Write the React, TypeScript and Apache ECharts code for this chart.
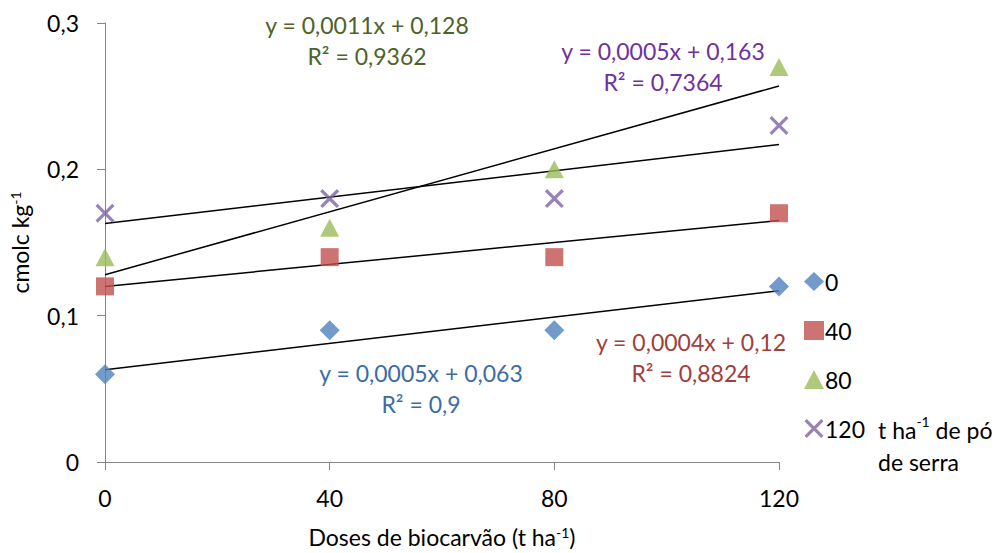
import React, { useEffect, useRef } from "react";
import * as echarts from "echarts";

const doses = [0, 40, 80, 120];
const seriesNames = ["0", "40", "80", "120"];
const values0 = [0.06, 0.09, 0.09, 0.12];
const values40 = [0.12, 0.14, 0.14, 0.17];
const values80 = [0.14, 0.16, 0.2, 0.27];
const values120 = [0.17, 0.18, 0.18, 0.23];
const trendX = [0, 120];
const trend0 = [0.063, 0.117];
const trend40 = [0.12, 0.165];
const trend80 = [0.128, 0.257];
const trend120 = [0.163, 0.217];

const FONT = "Lato, 'Open Sans', sans-serif";
const FS = 23;
const XMARK = "path://M0,1.2L1.2,0L5,3.8L8.8,0L10,1.2L6.2,5L10,8.8L8.8,10L5,6.2L1.2,10L0,8.8L3.8,5Z";

export default function App() {
  const ref = useRef<HTMLDivElement>(null);
  useEffect(() => {
    if (!ref.current) return;
    const chart = echarts.init(ref.current, null, { renderer: "svg" });
    const pts = (v: number[]) => doses.map((d, i) => [d, v[i]]);
    const tr = (v: number[]) => trendX.map((d, i) => [d, v[i]]);
    const sup = { fontSize: 14, verticalAlign: "top" as const, fontFamily: FONT, color: "#000", padding: [0, 0, 8, 0] };
    const trendSeries = [trend0, trend40, trend80, trend120].map((t) => ({
      type: "line",
      data: tr(t),
      showSymbol: false,
      symbol: "none",
      silent: true,
      lineStyle: { color: "#000", width: 1.5 },
      z: 3,
    }));
    const eq = (x: number, y: number, l1: string, l2: string, color: string) => ({
      type: "text",
      x,
      y,
      style: {
        text: l1 + "\n" + l2,
        fill: color,
        font: `${FS}px ${FONT}`,
        textAlign: "center",
        textVerticalAlign: "middle",
        lineHeight: 31,
      },
    });
    chart.setOption({
      animation: false,
      textStyle: { fontFamily: FONT },
      grid: { left: 103, right: 228, top: 23, bottom: 86, containLabel: false },
      xAxis: {
        type: "value",
        min: 0,
        max: 120,
        interval: 40,
        name: "Doses de biocarvão (t ha{s|-1})",
        nameLocation: "middle",
        nameGap: 63,
        nameTextStyle: { fontSize: FS, color: "#000", fontFamily: FONT, rich: { s: sup } },
        axisLine: { lineStyle: { color: "#868686", width: 1 } },
        axisTick: { show: true, length: 8, lineStyle: { color: "#868686" } },
        axisLabel: { fontSize: FS, color: "#000", margin: 24, fontFamily: FONT },
        splitLine: { show: false },
      },
      yAxis: {
        type: "value",
        min: 0,
        max: 0.3,
        interval: 0.1,
        name: "cmolc kg{s|-1}",
        nameLocation: "middle",
        nameRotate: 90,
        nameGap: 74,
        nameTextStyle: { fontSize: FS, color: "#000", fontFamily: FONT, rich: { s: sup } },
        axisLine: { show: true, lineStyle: { color: "#868686", width: 1 } },
        axisTick: { show: true, length: 8, lineStyle: { color: "#868686" } },
        axisLabel: {
          fontSize: FS,
          color: "#000",
          margin: 26,
          fontFamily: FONT,
          formatter: (v: number) => String(Math.round(v * 10) / 10).replace(".", ","),
        },
        splitLine: { show: false },
      },
      legend: {
        orient: "vertical",
        left: 799,
        top: 265,
        itemWidth: 20,
        itemHeight: 19,
        itemGap: 26,
        data: seriesNames,
        textStyle: { fontSize: FS, color: "#000", fontFamily: FONT, padding: [0, 0, 0, -4] },
      },
      series: [
        {
          name: seriesNames[0],
          type: "scatter",
          data: pts(values0),
          symbol: "diamond",
          symbolSize: [20, 20],
          itemStyle: { color: "#4F81BD" },
          z: 4,
        },
        {
          name: seriesNames[1],
          type: "scatter",
          data: pts(values40),
          symbol: "rect",
          symbolSize: [18, 18],
          itemStyle: { color: "#C0504D" },
          z: 4,
        },
        {
          name: seriesNames[2],
          type: "scatter",
          data: pts(values80),
          symbol: "triangle",
          symbolSize: [19, 18],
          itemStyle: { color: "#9BBB59" },
          z: 4,
        },
        {
          name: seriesNames[3],
          type: "scatter",
          data: pts(values120),
          symbol: XMARK,
          symbolSize: [19, 19],
          itemStyle: { color: "#8064A2" },
          z: 4,
        },
        ...trendSeries,
      ],
      graphic: [
        eq(367, 40, "y = 0,0011x + 0,128", "R² = 0,9362", "#4F6228"),
        eq(663, 66, "y = 0,0005x + 0,163", "R² = 0,7364", "#7030A0"),
        eq(421, 388, "y = 0,0005x + 0,063", "R² = 0,9", "#3C6CA8"),
        eq(691, 357, "y = 0,0004x + 0,12", "R² = 0,8824", "#A0403D"),
        {
          type: "text",
          x: 878,
          y: 414,
          style: {
            text: "t ha{s|-1} de pó\nde serra",
            rich: { s: sup },
            fill: "#000",
            font: `${FS}px ${FONT}`,
            lineHeight: 32,
          },
        },
      ],
    });
    return () => chart.dispose();
  }, []);
  return <div ref={ref} style={{ width: 1007, height: 553, position: "absolute", left: 0, top: 0 }} />;
}
